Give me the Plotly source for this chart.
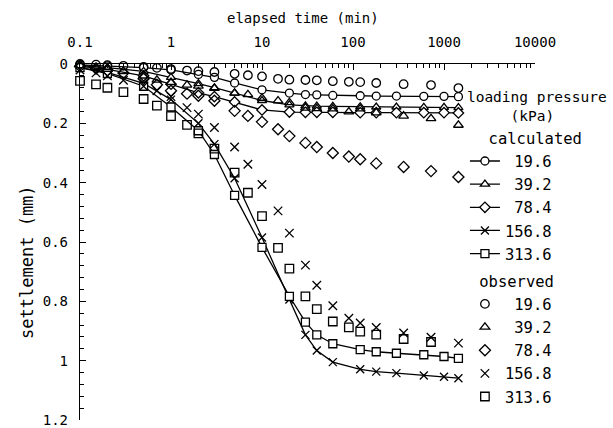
import plotly.graph_objects as go

# ---------------- data ----------------
obs_time = [0.1, 0.15, 0.2, 0.3, 0.5, 0.7, 1, 1.5, 2, 3, 5, 7, 10, 15, 20, 30, 40, 60, 90, 120, 180, 360, 720, 1440]
obs_19_6 = [0.000, 0.002, 0.004, 0.006, 0.010, 0.013, 0.017, 0.022, 0.024, 0.027, 0.033, 0.038, 0.042, 0.050, 0.053, 0.054, 0.055, 0.058, 0.060, 0.061, 0.064, 0.068, 0.071, 0.081]
obs_39_2 = [0.005, 0.012, 0.018, 0.025, 0.040, 0.054, 0.062, 0.071, 0.074, 0.082, 0.098, 0.103, 0.115, 0.124, 0.130, 0.148, 0.150, 0.151, 0.161, 0.151, 0.164, 0.175, 0.184, 0.206]
obs_78_4 = [0.008, 0.015, 0.022, 0.030, 0.050, 0.070, 0.090, 0.100, 0.107, 0.124, 0.158, 0.175, 0.195, 0.220, 0.243, 0.266, 0.280, 0.300, 0.312, 0.321, 0.335, 0.347, 0.361, 0.381]
obs_156_8 = [0.020, 0.030, 0.040, 0.055, 0.075, 0.090, 0.110, 0.147, 0.169, 0.214, 0.280, 0.338, 0.406, 0.495, 0.570, 0.678, 0.746, 0.815, 0.857, 0.873, 0.888, 0.907, 0.921, 0.941]
obs_313_6 = [0.057, 0.069, 0.080, 0.095, 0.118, 0.140, 0.176, 0.205, 0.234, 0.285, 0.366, 0.434, 0.513, 0.620, 0.690, 0.783, 0.826, 0.868, 0.888, 0.902, 0.912, 0.927, 0.937, None]

calc_time = [0.1, 0.2, 0.5, 1, 2, 3, 5, 10, 20, 30, 40, 60, 120, 180, 300, 600, 1000, 1440]
calc_19_6 = [0.003, 0.006, 0.012, 0.020, 0.035, 0.045, 0.064, 0.087, 0.098, 0.103, 0.104, 0.106, 0.107, 0.108, 0.108, 0.109, 0.109, 0.110]
calc_39_2 = [0.005, 0.012, 0.025, 0.045, 0.066, 0.080, 0.098, 0.123, 0.138, 0.141, 0.142, 0.143, 0.144, 0.145, 0.145, 0.146, 0.146, 0.147]
calc_78_4 = [0.008, 0.018, 0.040, 0.068, 0.097, 0.110, 0.128, 0.155, 0.162, 0.163, 0.163, 0.163, 0.164, 0.164, 0.164, 0.164, 0.164, 0.165]
calc_156_8 = [0.012, 0.028, 0.065, 0.120, 0.200, 0.270, 0.385, 0.585, 0.794, 0.913, 0.966, 1.005, 1.029, 1.037, 1.042, 1.050, 1.054, 1.059]
calc_313_6 = [0.012, 0.032, 0.075, 0.145, 0.225, 0.305, 0.443, 0.618, 0.783, 0.870, 0.913, 0.943, 0.963, 0.970, 0.975, 0.980, 0.986, 0.992]

pressure_labels = ["\u00a019.6", "\u00a039.2", "\u00a078.4", "156.8", "313.6"]
calc_symbols = ["circle", "triangle-up", "diamond", "x-thin-open", "square"]
obs_symbols = ["circle-open", "triangle-up-open", "diamond-open", "x-thin-open", "square-open"]

x_tickvals = [0.1, 1, 10, 100, 1000, 10000]
x_ticktext = ["0.1", "1", "10", "100", "1000", "10000"]
y_tickvals = [0, 0.2, 0.4, 0.6, 0.8, 1.0, 1.2]
y_ticktext = ["0", "0.2", "0.4", "0.6", "0.8", "1", "1.2"]

FONT = "DejaVu Sans Mono"
LEGEND_SIZE = 15.5

fig = go.Figure()

calc_series = [calc_19_6, calc_39_2, calc_78_4, calc_156_8, calc_313_6]
obs_series = [obs_19_6, obs_39_2, obs_78_4, obs_156_8, obs_313_6]

for i, (ys, lab, sym) in enumerate(zip(calc_series, pressure_labels, calc_symbols)):
    fill = "black" if sym.endswith("-open") else "white"
    fig.add_trace(go.Scatter(
        x=calc_time, y=ys, mode="lines+markers", name=lab,
        legendgroup="calc",
        legendgrouptitle=dict(text="\u00a0\u00a0calculated",
                              font=dict(size=LEGEND_SIZE, family=FONT, color="black")) if i == 0 else None,
        line=dict(color="black", width=1.3),
        marker=dict(symbol=sym, size=8, color=fill, line=dict(color="black", width=1.3)),
        cliponaxis=False,
    ))

for i, (ys, lab, sym) in enumerate(zip(obs_series, pressure_labels, obs_symbols)):
    fig.add_trace(go.Scatter(
        x=obs_time, y=ys, mode="markers", name=lab,
        legendgroup="obs",
        legendgrouptitle=dict(text="\u00a0observed",
                              font=dict(size=LEGEND_SIZE, family=FONT, color="black")) if i == 0 else None,
        marker=dict(symbol=sym, size=8.5, color="black", line=dict(color="black", width=1.3)),
        cliponaxis=False,
    ))

minor_x = [m * 10 ** e for e in range(-1, 4) for m in range(2, 10)]

fig.update_xaxes(
    type="log", range=[-1, 4], side="top",
    showline=True, linecolor="black", linewidth=1.3, mirror=False,
    showgrid=False, zeroline=False,
    ticks="inside", ticklen=6, tickwidth=1.2, tickcolor="black",
    tickvals=x_tickvals, ticktext=x_ticktext,
    tickfont=dict(size=14, family=FONT, color="black"),
    ticklabelstandoff=10,
    minor=dict(tickvals=minor_x, ticks="inside", ticklen=4, tickwidth=1, tickcolor="black", showgrid=False),
)
fig.update_yaxes(
    range=[1.2, 0],
    showline=True, linecolor="black", linewidth=1.3,
    showgrid=False, zeroline=False,
    ticks="inside", ticklen=6, tickwidth=1.2, tickcolor="black",
    tickvals=y_tickvals, ticktext=y_ticktext,
    tickfont=dict(size=14, family=FONT, color="black"),
    ticklabelstandoff=8,
    minor=dict(dtick=0.04, ticks="inside", ticklen=4, tickwidth=1, tickcolor="black", showgrid=False),
)

fig.update_layout(
    width=613, height=428,
    margin=dict(l=80, r=78, t=64, b=8, autoexpand=False),
    plot_bgcolor="white", paper_bgcolor="white",
    font=dict(family=FONT, size=14, color="black"),
    showlegend=True,
    legend=dict(
        x=0.846, y=0.945, xanchor="left", yanchor="top",
        bgcolor="rgba(0,0,0,0)", borderwidth=0,
        font=dict(size=LEGEND_SIZE, family=FONT, color="black"),
        title=dict(text="loading pressure<br>\u00a0\u00a0\u00a0\u00a0\u00a0(kPa)", side="top",
                   font=dict(size=14.5, family=FONT, color="black")),
        traceorder="grouped", tracegroupgap=4, itemwidth=30,
    ),
    annotations=[
        dict(text="elapsed time (min)", x=0.49, y=1, xref="paper", yref="paper",
             xanchor="center", yanchor="middle",
             yshift=46, showarrow=False, font=dict(size=14, family=FONT, color="black")),
        dict(text="settlement (mm)", x=-0.1165, y=0.444, xref="paper", yref="paper",
             xanchor="center", yanchor="middle",
             textangle=-90, showarrow=False, font=dict(size=17, family=FONT, color="black")),
    ],
)

fig.write_html(
    "out.html",
    config={"displayModeBar": False},
    post_script="document.body.style.margin='0';document.body.style.overflow='hidden';",
)
